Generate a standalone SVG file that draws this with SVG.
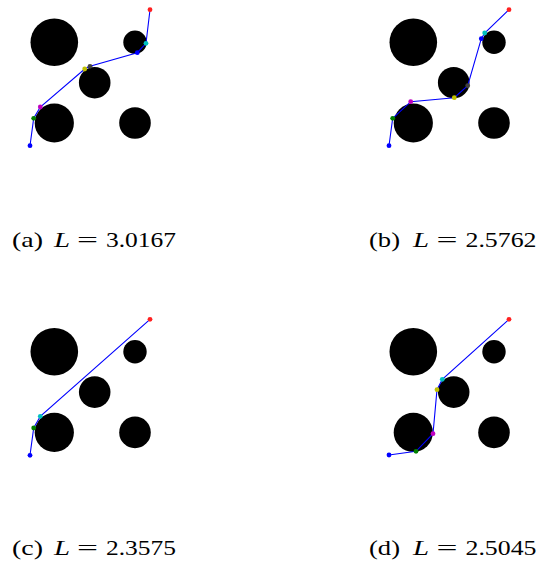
<svg xmlns="http://www.w3.org/2000/svg" width="540" height="569" viewBox="0 0 540 569">
<style>
.obs{fill:#000}
.path{fill:none;stroke:#0000ff;stroke-width:1.1}
.pt{stroke:none}
.lbl{font-family:"Liberation Serif","Times New Roman",serif;font-size:21px;fill:#000}
.it{font-style:italic}
</style>
<defs>
<g id="obstacles">
<circle class="obs" cx="54.3" cy="42.3" r="23.8"/>
<circle class="obs" cx="135" cy="42.3" r="11.7"/>
<circle class="obs" cx="94.7" cy="82.7" r="15.8"/>
<circle class="obs" cx="54.3" cy="123" r="19.6"/>
<circle class="obs" cx="135" cy="123" r="15.8"/>
</g>
</defs>
<g id="panel-a">
<use href="#obstacles"/>
<g id="connectors-a"><polyline class="path" points="30,145.7 33.7,118.3 40.3,107 84.7,69 90,66.3 137.3,52.7 146,43.3 150,9.7"/></g>
<g id="points-a">
<circle class="pt" cx="30" cy="145.7" r="2.4" fill="#0000ff"/>
<circle class="pt" cx="33.7" cy="118.3" r="2.4" fill="#008000"/>
<circle class="pt" cx="40.3" cy="107" r="2.4" fill="#c000c0"/>
<circle class="pt" cx="84.7" cy="69" r="2.4" fill="#c0c000"/>
<circle class="pt" cx="90" cy="66.3" r="2.4" fill="#404040"/>
<circle class="pt" cx="137.3" cy="52.7" r="2.4" fill="#0000ff"/>
<circle class="pt" cx="146" cy="43.3" r="2.4" fill="#00c0c0"/>
<circle class="pt" cx="150" cy="9.7" r="2.4" fill="#ff2020"/>
</g>
<text class="lbl" y="247"><tspan x="12" textLength="31" lengthAdjust="spacingAndGlyphs">(a)</tspan><tspan class="it" x="54" textLength="16" lengthAdjust="spacingAndGlyphs">L</tspan><tspan x="77" textLength="21" lengthAdjust="spacingAndGlyphs">=</tspan><tspan x="106" textLength="70" lengthAdjust="spacingAndGlyphs">3.0167</tspan></text>
</g>
<g id="panel-b">
<use href="#obstacles" transform="translate(359,0)"/>
<g id="connectors-b"><polyline class="path" points="389,145.7 392.7,118.3 410.7,101.7 454.3,97.7 467.7,85.7 481.3,38.7 484.7,33 509,9.7"/></g>
<g id="points-b">
<circle class="pt" cx="389" cy="145.7" r="2.4" fill="#0000ff"/>
<circle class="pt" cx="392.7" cy="118.3" r="2.4" fill="#008000"/>
<circle class="pt" cx="410.7" cy="101.7" r="2.4" fill="#c000c0"/>
<circle class="pt" cx="454.3" cy="97.7" r="2.4" fill="#c0c000"/>
<circle class="pt" cx="467.7" cy="85.7" r="2.4" fill="#404040"/>
<circle class="pt" cx="481.3" cy="38.7" r="2.4" fill="#0000ff"/>
<circle class="pt" cx="484.7" cy="33" r="2.4" fill="#00c0c0"/>
<circle class="pt" cx="509" cy="9.7" r="2.4" fill="#ff2020"/>
</g>
<text class="lbl" y="247"><tspan x="369" textLength="31" lengthAdjust="spacingAndGlyphs">(b)</tspan><tspan class="it" x="413" textLength="16" lengthAdjust="spacingAndGlyphs">L</tspan><tspan x="436.5" textLength="21" lengthAdjust="spacingAndGlyphs">=</tspan><tspan x="465.5" textLength="71" lengthAdjust="spacingAndGlyphs">2.5762</tspan></text>
</g>
<g id="panel-c">
<use href="#obstacles" transform="translate(0,309.4)"/>
<g id="connectors-c"><polyline class="path" points="30,455.3 33.7,428 40.3,416.3 150,319.3"/></g>
<g id="points-c">
<circle class="pt" cx="30" cy="455.3" r="2.4" fill="#0000ff"/>
<circle class="pt" cx="33.7" cy="428" r="2.4" fill="#008000"/>
<circle class="pt" cx="40.3" cy="416.3" r="2.4" fill="#00c0c0"/>
<circle class="pt" cx="150" cy="319.3" r="2.4" fill="#ff2020"/>
</g>
<text class="lbl" y="555"><tspan x="12" textLength="31" lengthAdjust="spacingAndGlyphs">(c)</tspan><tspan class="it" x="54" textLength="16" lengthAdjust="spacingAndGlyphs">L</tspan><tspan x="77" textLength="21" lengthAdjust="spacingAndGlyphs">=</tspan><tspan x="106" textLength="70" lengthAdjust="spacingAndGlyphs">2.3575</tspan></text>
</g>
<g id="panel-d">
<use href="#obstacles" transform="translate(359,309.4)"/>
<g id="connectors-d"><polyline class="path" points="389,455 416,451.3 433,433.7 437,389.7 442.3,379.3 509,319.3"/></g>
<g id="points-d">
<circle class="pt" cx="389" cy="455" r="2.4" fill="#0000ff"/>
<circle class="pt" cx="416" cy="451.3" r="2.4" fill="#008000"/>
<circle class="pt" cx="433" cy="433.7" r="2.4" fill="#c000c0"/>
<circle class="pt" cx="437" cy="389.7" r="2.4" fill="#c0c000"/>
<circle class="pt" cx="442.3" cy="379.3" r="2.4" fill="#00c0c0"/>
<circle class="pt" cx="509" cy="319.3" r="2.4" fill="#ff2020"/>
</g>
<text class="lbl" y="555"><tspan x="369" textLength="31" lengthAdjust="spacingAndGlyphs">(d)</tspan><tspan class="it" x="413" textLength="16" lengthAdjust="spacingAndGlyphs">L</tspan><tspan x="436.5" textLength="21" lengthAdjust="spacingAndGlyphs">=</tspan><tspan x="465.5" textLength="71" lengthAdjust="spacingAndGlyphs">2.5045</tspan></text>
</g>
</svg>
